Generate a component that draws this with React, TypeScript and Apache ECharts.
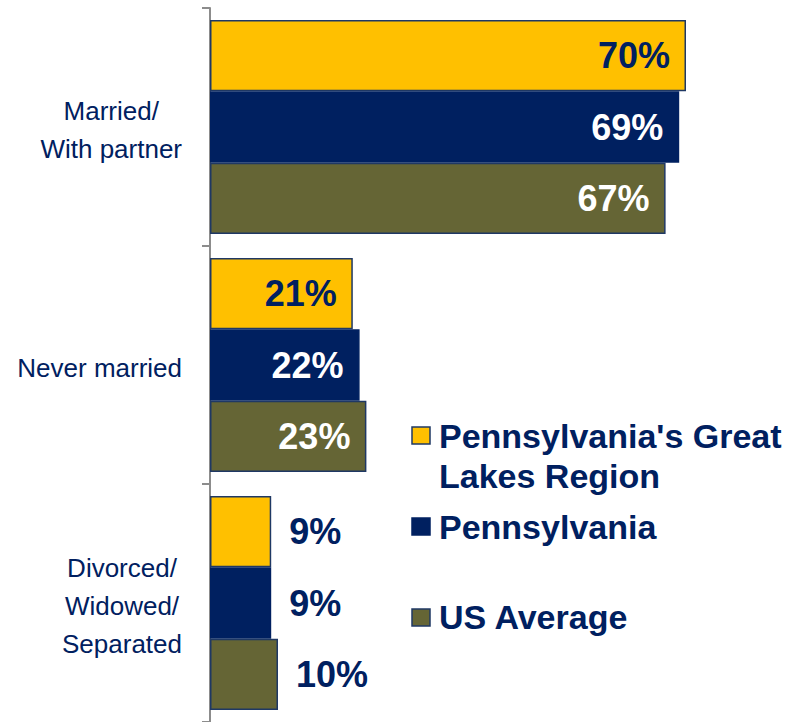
import React, { useEffect, useRef } from "react";
import * as echarts from "echarts";

const categories = ["Married/\nWith partner", "Never married", "Divorced/\nWidowed/\nSeparated"];
const seriesNames = ["Pennsylvania's Great Lakes Region", "Pennsylvania", "US Average"];
const legendLines = [["Pennsylvania's Great", "Lakes Region"], ["Pennsylvania"], ["US Average"]];
const greatLakes = [70, 21, 9];
const pennsylvania = [69, 22, 9];
const usAverage = [67, 23, 10];

const YELLOW = "#FFC000";
const NAVY = "#002060";
const OLIVE = "#656535";
const BORDER = "#1F3864";
const FONT = "'Liberation Sans', Arial, sans-serif";

export default function App() {
  const ref = useRef<HTMLDivElement>(null);
  useEffect(() => {
    if (!ref.current) return;
    const chart = echarts.init(ref.current, undefined, { renderer: "svg" });
    const colors = [YELLOW, NAVY, OLIVE];
    const values = [greatLakes, pennsylvania, usAverage];
    const insideColors = [NAVY, "#FFFFFF", "#FFFFFF"];

    const series = values.map((vals, si) => ({
      name: seriesNames[si],
      type: "bar",
      barGap: "0%",
      barCategoryGap: "10%",
      itemStyle: {
        color: colors[si],
        borderColor: si === 1 ? NAVY : BORDER,
        borderWidth: 1.5,
      },
      data: vals.map((v) => ({
        value: v,
        label: {
          show: true,
          position: v >= 15 ? "insideRight" : "right",
          distance: v >= 15 ? 16 : 18,
          color: v >= 15 ? insideColors[si] : NAVY,
          formatter: "{c}%",
          fontSize: 36,
          fontWeight: "bold",
          fontFamily: FONT,
        },
      })),
    }));

    const graphics: any[] = [];
    const markerTops = [427, 518, 609];
    const lineCenters = [[436, 476], [527], [617]];
    legendLines.forEach((lines, i) => {
      graphics.push({
        type: "rect",
        shape: { x: 412, y: markerTops[i], width: 18, height: 17 },
        style: { fill: colors[i], stroke: i === 1 ? NAVY : BORDER, lineWidth: 1.5 },
      });
      lines.forEach((t, j) => {
        graphics.push({
          type: "text",
          x: 439,
          y: lineCenters[i][j],
          style: {
            text: t,
            fill: NAVY,
            font: `bold 34px ${FONT}`,
            verticalAlign: "middle",
            align: "left",
          },
        });
      });
    });

    chart.setOption({
      animation: false,
      grid: { left: 210, top: 8, width: 544, height: 717, containLabel: false },
      xAxis: {
        type: "value",
        min: 0,
        max: 80,
        show: false,
        splitLine: { show: false },
      },
      yAxis: {
        type: "category",
        inverse: true,
        data: categories,
        axisLine: { show: true, lineStyle: { color: "#8C8C8C", width: 2 } },
        axisTick: { show: true, length: 8, lineStyle: { color: "#8C8C8C", width: 2 } },
        axisLabel: {
          margin: 28,
          padding: [5, 0, 0, 0],
          formatter: (val: string) =>
            val.split("\n").map((l) => `{c|${l}}`).join("\n"),
          rich: {
            c: {
              align: "center",
              fontSize: 26,
              lineHeight: 38,
              color: NAVY,
              fontFamily: FONT,
            },
          },
        },
      },
      series,
      graphic: graphics,
    });
    return () => chart.dispose();
  }, []);
  return (
    <div
      ref={ref}
      style={{ position: "absolute", left: 0, top: 0, width: 808, height: 722 }}
    />
  );
}
